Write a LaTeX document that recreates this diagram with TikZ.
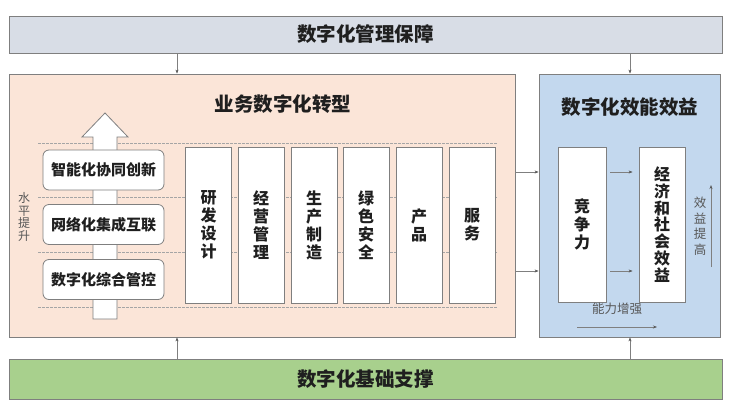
\documentclass[tikz,border=0pt]{standalone}
\usepackage{fontspec}
\newfontfamily\cjk{Noto Sans CJK SC}
\usetikzlibrary{arrows.meta,calc}
\definecolor{bandgray}{HTML}{D8DDE6}
\definecolor{peach}{HTML}{FBE5D8}
\definecolor{lblue}{HTML}{C3D8EE}
\definecolor{lgreen}{HTML}{A8D08D}
\definecolor{bordergray}{HTML}{7F7F7F}
\definecolor{txt}{HTML}{1F1F1F}
\definecolor{arrgray}{HTML}{595959}
\begin{document}
\begin{tikzpicture}[x=1pt,y=-1pt,
  band/.style={draw=bordergray, line width=0.8pt, inner sep=0pt, text=txt, font=\cjk\bfseries\fontsize{19.5}{21}\selectfont},
  panel/.style={draw=bordergray, line width=0.8pt, inner sep=0pt},
  col/.style={draw=bordergray, fill=white, line width=0.8pt, minimum width=46pt, minimum height=156pt, inner sep=0pt, align=center, text=txt, font=\cjk\bfseries\fontsize{16}{18}\selectfont},
  lvl/.style={draw=bordergray, fill=white, line width=0.8pt, rounded corners=6pt, minimum width=121pt, minimum height=40pt, inner sep=0pt, text=txt, font=\cjk\bfseries\fontsize{15}{17}\selectfont},
  ttl/.style={text=txt, font=\cjk\bfseries\fontsize{19.5}{21}\selectfont, inner sep=0pt},
  small/.style={text=txt!75, font=\cjk\fontsize{12.5}{15}\selectfont, inner sep=0pt, align=center},
  arr/.style={draw=bordergray, line width=0.6pt, -{Stealth[length=4pt,width=3pt,color=arrgray]}},
  dsh/.style={draw=bordergray!70, line width=0.6pt, dash pattern=on 2.5pt off 1.5pt}
]
\useasboundingbox (0,0) rectangle (729,416);
% bands and panels
\node[band, fill=bandgray, minimum width=713pt, minimum height=37pt] (top) at (365.5,34.5) {数字化管理保障};
\node[panel, fill=peach, minimum width=506pt, minimum height=263pt] (lbox) at (262,205.5) {};
\node[panel, fill=lblue, minimum width=181pt, minimum height=263pt] (rbox) at (629.5,205.5) {};
\node[band, fill=lgreen, minimum width=713pt, minimum height=40pt] (bot) at (365.5,379) {数字化基础支撑};
% vertical connectors
\coordinate (xa) at (177,0);
\coordinate (xb) at (630,0);
\draw[arr] (top.south -| xa) -- (lbox.north -| xa);
\draw[arr] (top.south -| xb) -- (rbox.north -| xb);
\draw[arr] (bot.north -| xa) -- (lbox.south -| xa);
\draw[arr] (bot.north -| xb) -- (rbox.south -| xb);
% titles
\node[ttl] (ltitle) at (283,104) {业务数字化转型};
\node[ttl] (rtitle) at (630,107) {数字化效能效益};
% dashed level lines
\foreach \yy in {143,197,252,307} \draw[dsh] (38,\yy) -- (498,\yy);
% big up arrow
\draw[draw=bordergray, fill=white, line width=0.8pt] (93,319) -- (93,137) -- (82,137) -- (105,113) -- (128,137) -- (117,137) -- (117,319) -- cycle;
% level boxes
\node[lvl] (l1) at (103.5,170) {智能化协同创新};
\node[lvl] (l2) at (103.5,224.5) {网络化集成互联};
\node[lvl] (l3) at (103.5,279.5) {数字化综合管控};
\node[small, font=\cjk\fontsize{12}{12.5}\selectfont] (lvltxt) at (24,217) {水\\平\\提\\升};
% columns
\node[col] (c1) at (208.5,225) {研\\发\\设\\计};
\node[col] (c2) at (261,225) {经\\营\\管\\理};
\node[col] (c3) at (314,225) {生\\产\\制\\造};
\node[col] (c4) at (366,225) {绿\\色\\安\\全};
\node[col] (c5) at (419,225) {产\\品};
\node[col] (c6) at (472,225) {服\\务};
% right panel boxes
\node[col, minimum width=48pt, minimum height=155pt] (comp) at (582,224.5) {竞\\争\\力};
\node[col, minimum height=155pt, font=\cjk\bfseries\fontsize{16}{16.8}\selectfont] (econ) at (662,224.5) {经\\济\\和\\社\\会\\效\\益};
% horizontal connectors
\coordinate (ya) at (0,172);
\coordinate (yb) at (0,271);
\draw[arr] (lbox.east |- ya) -- (rbox.west |- ya);
\draw[arr] (lbox.east |- yb) -- (rbox.west |- yb);
\draw[arr, shorten <=4pt, shorten >=6pt] (comp.east |- ya) -- (econ.west |- ya);
\draw[arr, shorten <=4pt, shorten >=6pt] (comp.east |- yb) -- (econ.west |- yb);
% benefit arrow
\coordinate (vb) at (711,267);
\coordinate (vt) at (711,185);
\draw[arr] (vb) -- (vt);
\node[small, font=\cjk\fontsize{12.5}{15.5}\selectfont] (bentxt) at (700,226) {效\\益\\提\\高};
% capability arrow
\node[small, font=\cjk\fontsize{12.5}{15}\selectfont] (captxt) at (617,309) {能力增强};
\coordinate (ha) at (577,327);
\coordinate (hb) at (657,327);
\draw[arr] (ha) -- (hb);
\end{tikzpicture}
\end{document}
